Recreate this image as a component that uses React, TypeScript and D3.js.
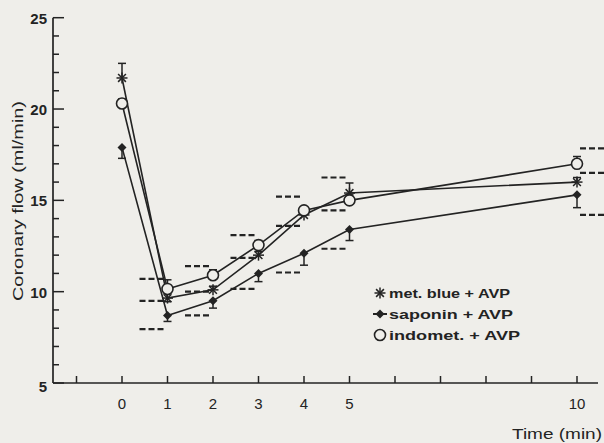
import React from "react";
import * as d3 from "d3";

// time points (min)
const times = [0, 1, 2, 3, 4, 5, 10];

// coronary flow, ml/min
const metBlue = [21.7, 9.65, 10.1, 12.0, 14.2, 15.4, 16.0];
const saponin = [17.9, 8.7, 9.5, 11.0, 12.1, 13.4, 15.3];
const indomet = [20.3, 10.15, 10.9, 12.55, 14.45, 15.0, 17.0];

// one-sided SEM bars (positive = up, negative = down)
const metBlueErr = [0.8, -0.2, 0.2, 0.2, 0.2, 0.55, 0.25];
const saponinErr = [-0.6, -0.33, -0.4, -0.45, -0.65, -0.6, -0.7];
const indometErr = [0.25, 0.5, 0.3, 0.25, 0.2, 0.3, 0.4];

// dashed reference marks next to each time point
const dashTimes = [1, 2, 3, 4, 5, 10];
const dashUpper = [10.7, 11.4, 13.1, 15.2, 16.25, 17.85];
const dashMiddle = [9.5, 10.0, 11.85, 13.6, 14.45, 16.5];
const dashLower = [7.95, 8.7, 10.15, 11.05, 12.35, 14.2];

const xTicks = d3.range(-1, 11);
const xLabels = [0, 1, 2, 3, 4, 5, 10];
const yTicks = d3.range(5, 26);
const yLabels = [5, 10, 15, 20, 25];

const legendNames = ["met. blue + AVP", "saponin + AVP", "indomet. + AVP"];

const ink = "#232323";
const paper = "#efeeea";
const font = "'Liberation Sans', Arial, sans-serif";

const Asterisk = ({ cx, cy, r = 5.5 }) => (
  <g stroke={ink} strokeWidth={1.5}>
    {[0, 45, 90, 135].map(a => {
      const dx = r * Math.cos((a * Math.PI) / 180);
      const dy = r * Math.sin((a * Math.PI) / 180);
      return <line key={a} x1={cx - dx} y1={cy - dy} x2={cx + dx} y2={cy + dy} />;
    })}
  </g>
);

const Diamond = ({ cx, cy, r = 4.5 }) => (
  <path d={`M${cx},${cy - r}L${cx + r},${cy}L${cx},${cy + r}L${cx - r},${cy}Z`} fill={ink} />
);

const Circle = ({ cx, cy, r = 5.5 }) => (
  <circle cx={cx} cy={cy} r={r} fill={paper} stroke={ink} strokeWidth={1.6} />
);

const markers = [Asterisk, Diamond, Circle];

export default function App() {
  const width = 604;
  const height = 443;

  const x = d3.scaleLinear().domain([0, 10]).range([122, 577]);
  const y = d3.scaleLinear().domain([5, 25]).range([383, 17.7]);
  const axisX = 53;

  const line = d3
    .line<number>()
    .x((d, i) => x(times[i]))
    .y(d => y(d));

  const series = [
    { values: metBlue, err: metBlueErr },
    { values: saponin, err: saponinErr },
    { values: indomet, err: indometErr },
  ];

  const dashLevels = [dashUpper, dashMiddle, dashLower];

  return (
    <svg width={width} height={height} style={{ position: "absolute", left: 0, top: 0 }}>
      <rect width={width} height={height} fill={paper} />

      {/* y axis */}
      <line x1={axisX} x2={axisX} y1={y(25)} y2={y(5)} stroke={ink} strokeWidth={1.7} />
      {yTicks.map(t => (
        <line
          key={"yt" + t}
          x1={axisX}
          x2={axisX + (t % 5 === 0 ? 11 : 6)}
          y1={y(t)}
          y2={y(t)}
          stroke={ink}
          strokeWidth={1.5}
        />
      ))}
      {yLabels.map(t => (
        <text
          key={"yl" + t}
          x={47}
          y={y(t) + (t === 5 ? 9 : 6)}
          textAnchor="end"
          fontFamily={font}
          fontSize={15}
          fontWeight="bold"
          fill={ink}
        >
          {t}
        </text>
      ))}
      <text
        transform={`translate(23, 201) rotate(-90)`}
        textAnchor="middle"
        fontFamily={font}
        fontSize={14}
        fill={ink}
        textLength={200}
        lengthAdjust="spacingAndGlyphs"
      >
        Coronary flow (ml/min)
      </text>

      {/* x axis */}
      <line x1={axisX} x2={598} y1={y(5)} y2={y(5)} stroke={ink} strokeWidth={1.7} />
      {xTicks.map(t => (
        <line key={"xt" + t} x1={x(t)} x2={x(t)} y1={y(5)} y2={y(5) - 7} stroke={ink} strokeWidth={1.5} />
      ))}
      {xLabels.map(t => (
        <text
          key={"xl" + t}
          x={x(t)}
          y={409}
          textAnchor="middle"
          fontFamily={font}
          fontSize={15}
          fill={ink}
        >
          {t}
        </text>
      ))}
      <text
        x={602}
        y={439}
        textAnchor="end"
        fontFamily={font}
        fontSize={15}
        fill={ink}
        textLength={90}
        lengthAdjust="spacingAndGlyphs"
      >
        Time (min)
      </text>

      {/* dashed marks */}
      {dashLevels.map((lvl, li) =>
        lvl.map((v, i) => {
          const cx = x(dashTimes[i]);
          const right = dashTimes[i] === 10;
          const x1 = right ? cx + 3 : cx - 28;
          return (
            <line
              key={"d" + li + "-" + i}
              x1={x1}
              x2={x1 + 26}
              y1={y(v)}
              y2={y(v)}
              stroke={ink}
              strokeWidth={2.2}
              strokeDasharray="6,3"
            />
          );
        })
      )}

      {/* series lines */}
      {series.map((s, si) => (
        <path key={"l" + si} d={line(s.values) || ""} fill="none" stroke={ink} strokeWidth={1.6} />
      ))}

      {/* error bars */}
      {series.map((s, si) =>
        s.values.map((v, i) => {
          const cx = x(times[i]);
          const ye = y(v + s.err[i]);
          return (
            <g key={"e" + si + "-" + i} stroke={ink} strokeWidth={1.5}>
              <line x1={cx} x2={cx} y1={y(v)} y2={ye} />
              <line x1={cx - 4} x2={cx + 4} y1={ye} y2={ye} />
            </g>
          );
        })
      )}

      {/* markers */}
      {series.map((s, si) => {
        const M = markers[si];
        return s.values.map((v, i) => <M key={"m" + si + "-" + i} cx={x(times[i])} cy={y(v)} />);
      })}

      {/* legend */}
      {legendNames.map((name, i) => {
        const ly = 293 + i * 21;
        const M = markers[i];
        return (
          <g key={"lg" + i}>
            {i === 1 && <line x1={373} x2={387} y1={ly} y2={ly} stroke={ink} strokeWidth={2} />}
            <M cx={380} cy={ly} />
            <text
              x={389}
              y={ly + 4.5}
              fontFamily={font}
              fontSize={12}
              fontWeight="bold"
              fill={ink}
              textLength={[121, 124, 131][i]}
              lengthAdjust="spacingAndGlyphs"
            >
              {name}
            </text>
          </g>
        );
      })}
    </svg>
  );
}
